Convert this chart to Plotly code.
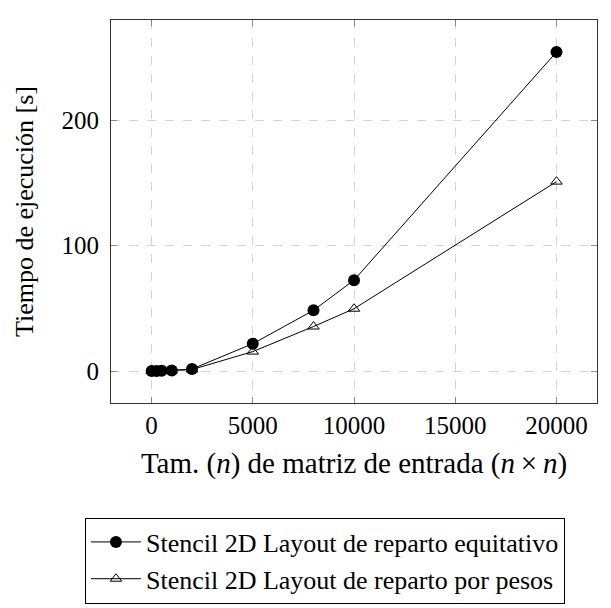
import plotly.graph_objects as go

sizes = [10, 250, 500, 1000, 2000, 5000, 8000, 10000, 20000]
t_equitativo = [0.0, 0.05, 0.15, 0.5, 1.6, 21.8, 48.4, 72.5, 254.5]
t_pesos = [0.0, 0.04, 0.12, 0.4, 1.2, 15.5, 35.5, 49.7, 151.1]
x_ticks = [0, 5000, 10000, 15000, 20000]
y_ticks = [0, 100, 200]

FONT = "Liberation Serif"

fig = go.Figure()
fig.add_trace(go.Scatter(
    x=sizes, y=t_equitativo, mode="lines+markers",
    name="Stencil 2D Layout de reparto equitativo",
    line=dict(color="black", width=1),
    marker=dict(symbol="circle", size=12, color="black"),
))
fig.add_trace(go.Scatter(
    x=sizes, y=t_pesos, mode="lines+markers",
    name="Stencil 2D Layout de reparto por pesos",
    line=dict(color="black", width=1),
    marker=dict(symbol="triangle-up-open", size=10, color="black",
                line=dict(width=1, color="black")),
))

axis_common = dict(
    showline=True, linecolor="#333", linewidth=1, mirror="ticks",
    ticks="inside", ticklen=6, tickcolor="#888", tickwidth=1,
    showgrid=True, gridcolor="#d4d4d4", griddash="dash", gridwidth=1,
    zeroline=False, tickfont=dict(family=FONT, size=25, color="black"),
)

fig.update_xaxes(
    range=[-2000, 22000], tickvals=x_ticks,
    ticktext=[str(v) for v in x_ticks],
    title=dict(text="Tam. (<i>n</i>) de matriz de entrada (<i>n</i>\u2009×\u2009<i>n</i>)",
               font=dict(family=FONT, size=29, color="black"), standoff=14),
    **axis_common,
)
fig.update_yaxes(
    range=[-25.5, 280], tickvals=y_ticks,
    ticktext=[str(v) for v in y_ticks],
    ticklabelstandoff=6,
    title=dict(text="Tiempo de ejecución [s]",
               font=dict(family=FONT, size=26, color="black"), standoff=20),
    **axis_common,
)

fig.update_layout(
    width=611, height=608,
    margin=dict(l=103, r=22, t=12, b=193),
    plot_bgcolor="white", paper_bgcolor="white",
    showlegend=True,
    legend=dict(
        x=-0.0536, y=-0.299, xanchor="left", yanchor="top",
        bordercolor="black", borderwidth=1, bgcolor="white",
        font=dict(family=FONT, size=26, color="black"),
        itemwidth=50, tracegroupgap=0,
    ),
)

fig.write_html("out.html")
